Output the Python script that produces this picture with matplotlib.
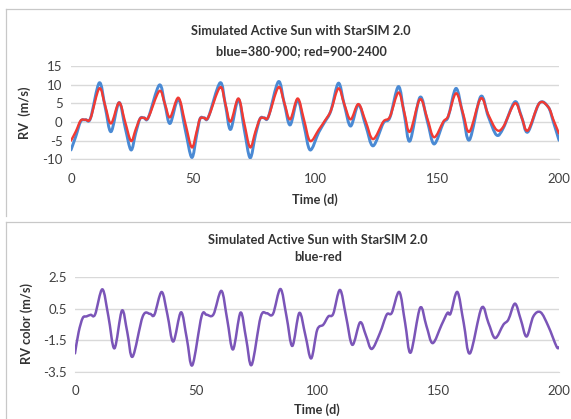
import numpy as np
import matplotlib
matplotlib.use("Agg")
import matplotlib.pyplot as plt
from matplotlib.path import Path
from matplotlib.patches import PathPatch
from matplotlib.lines import Line2D

plt.rcParams['font.family'] = ['Lato', 'DejaVu Sans']

# RV time series (days, m/s)
days_rv = [0, 2, 4, 6, 8, 11.6, 14, 16.4, 19.7, 22.2, 24.6, 26.5, 28.3, 30, 31.7,
           36.2, 38.5, 40.6, 44, 46.8, 49.5, 51.5, 52.9, 54.6, 56.3, 61.1, 63.3, 65.4,
           68.6, 71, 73.4, 75.6, 77.5, 79.2, 80.9, 85, 87.4, 89.8, 92.9, 95.5, 98,
           101.5, 104, 106.5, 109.6, 112, 114.6, 117.8, 120.8, 123.8, 128, 130.7,
           134.2, 136.6, 138.9, 143, 146, 148.8, 152.6, 154.6, 157.8, 160.6, 163.3,
           167.9, 171, 174.4, 177.2, 181.9, 184.6, 187.2, 191.9, 195.6, 197.7, 200]
rv_blue = [-7.5, -3.8, 0.2, 0.6, 1.0, 10.5, 4.0, -2.6, 5.2, -1.5, -7.5, -3.0, 0.9, 1.1, 1.2,
           9.9, 4.6, -0.4, 6.1, -2.0, -9.5, -3.5, 0.9, 1.1, 1.3, 10.5, 4.5, -2.0,
           6.1, -2.0, -9.6, -3.5, 0.9, 1.1, 1.4, 10.8, 5.0, -0.8, 5.9, -1.0, -7.5,
           -2.8, 0.0, 3.0, 10.4, 4.6, -1.1, 4.6, -1.0, -6.4, -0.3, 1.2,
           9.5, 2.0, -5.1, 6.6, 0.3, -5.9, -0.2, 1.4, 9.0, 2.0, -4.8,
           6.8, 1.5, -3.5, -1.6, 5.4, 1.5, -2.7, 5.0, 4.0, 0.0, -4.9]
rv_red = [-5.0, -2.5, 0.4, 0.6, 1.0, 9.0, 4.4, -0.4, 5.2, 0.0, -5.1, -2.0, 0.9, 1.1, 1.2,
          8.3, 4.8, 1.25, 6.5, -0.2, -6.8, -2.5, 0.9, 1.1, 1.3, 9.3, 4.8, 0.1,
          6.3, -0.3, -6.8, -2.5, 0.9, 1.1, 1.4, 9.3, 5.2, 0.7, 6.3, 0.6, -5.1,
          -2.1, 0.3, 3.0, 9.0, 4.8, 0.7, 4.8, 0.1, -4.6, 0.1, 1.4,
          7.9, 2.6, -2.6, 6.1, 1.0, -4.1, 0.1, 1.6, 7.7, 2.5, -2.6,
          6.3, 2.0, -2.1, -1.25, 5.0, 1.4, -2.3, 5.0, 4.0, 0.6, -3.1]

# colour signal blue-red (days, m/s)
days_col = [0, 1.5, 3.2, 4.8, 6.5, 8.3, 11.3, 13.8, 16.3, 19.4, 21.6, 23.8, 28, 31, 32.8,
            35.8, 38.2, 40.6, 43.8, 46.2, 48.5, 52.3, 54.4, 57.2, 60.5, 62.9, 65.3,
            68.4, 70.7, 73, 76.7, 79.2, 81.8, 84.9, 87.4, 89.8, 92.7, 95.2, 97.6,
            100.1, 102.6, 104.7, 106.7, 109.5, 112, 114.6, 117.8, 120.2, 122.6, 126,
            128.8, 130.9, 134, 136.4, 138.7, 142.6, 145.2, 147.8, 151.5, 153.9, 155.2,
            158, 160.6, 163.2, 168, 170.8, 173.6, 177, 179.1, 181.8, 184.2, 186.6,
            189.4, 192.4, 195.6, 199, 200]
rv_color = [-2.35, -1.0, -0.1, 0.0, 0.1, 0.12, 1.72, 0.0, -2.03, 0.37, -1.0, -2.56, 0.0, 0.16, 0.1,
            1.55, 0.1, -1.6, 0.26, -1.4, -3.1, 0.0, 0.1, 0.12, 1.62, -0.2, -2.1,
            0.24, -1.4, -3.08, -0.05, 0.2, 0.15, 1.74, 0.0, -1.88, 0.22, -1.2, -2.67,
            -0.85, -0.53, 0.0, 0.16, 1.68, 0.0, -1.81, -0.38, -1.2, -2.07, -1.06,
            0.11, 0.22, 1.55, -0.4, -2.3, 0.54, -0.6, -1.7, -0.53, 0.22, 0.18,
            1.55, -0.4, -2.35, 0.54, -0.4, -1.38, -0.53, -0.2, 0.81, -0.2, -1.28,
            0.0, 0.26, -0.63, -1.92, -1.96]

W, H = 571, 419
fig = plt.figure(figsize=(W / 100, H / 100), dpi=100)
TXT = '#333333'


def px_axes(left, right, top, bottom):
    return fig.add_axes([left / W, 1 - bottom / H, (right - left) / W, (bottom - top) / H])


def smooth_line(ax, x, y, color, lw):
    # Bezier-smoothed polyline like a spreadsheet "smoothed line"
    p = np.column_stack([x, y]).astype(float)
    n = len(p)
    verts = [p[0]]
    codes = [Path.MOVETO]
    for i in range(n - 1):
        p0 = p[i - 1] if i > 0 else p[i]
        p3 = p[i + 2] if i + 2 < n else p[i + 1]
        c1 = p[i] + (p[i + 1] - p0) / 6
        c2 = p[i + 1] - (p3 - p[i]) / 6
        verts += [c1, c2, p[i + 1]]
        codes += [Path.CURVE4] * 3
    patch = PathPatch(Path(verts, codes), facecolor='none', edgecolor=color,
                      lw=lw, capstyle='round', joinstyle='round', zorder=3)
    ax.add_patch(patch)


def style(ax, ylim, yticks, yfmt):
    ax.set_xlim(0, 200)
    ax.set_ylim(*ylim)
    ax.set_xticks([0, 50, 100, 150, 200])
    ax.set_yticks(yticks)
    ax.set_yticklabels([yfmt(v) for v in yticks])
    ax.grid(axis='y', color='#d9d9d9', lw=1)
    ax.set_axisbelow(True)
    for s in ['top', 'right', 'left']:
        ax.spines[s].set_visible(False)
    ax.spines['bottom'].set_color('#d9d9d9')
    ax.tick_params(length=0, labelsize=9.5, colors='#404040', pad=10)
    ax.tick_params(axis='y', pad=6)
    ax.set_facecolor('none')


# panel frames
for top, bot in [(9, 216), (222, 425)]:
    fig.add_artist(Line2D([5.5 / W, 5.5 / W], [1 - top / H, 1 - bot / H],
                          color='#c8c8c8', lw=0.9, transform=fig.transFigure))
    fig.add_artist(Line2D([5.5 / W, 1.0], [1 - top / H, 1 - top / H],
                          color='#c8c8c8', lw=0.9, transform=fig.transFigure))

# top panel
ax1 = px_axes(71, 559, 66, 159.3)
style(ax1, (-10, 15), [-10, -5, 0, 5, 10, 15], lambda v: f"{v:d}")
smooth_line(ax1, days_rv, rv_blue, '#4a8ad4', 2.1)
smooth_line(ax1, days_rv, rv_red, '#f23a32', 1.7)
fig.text(301 / W, 1 - 31 / H, "Simulated Active Sun with StarSIM 2.0", ha='center', va='center',
         fontsize=9.2, fontweight='bold', color=TXT)
fig.text(301 / W, 1 - 51 / H, "blue=380-900; red=900-2400", ha='center', va='center',
         fontsize=9.2, fontweight='bold', color=TXT)
fig.text(25 / W, 1 - 113 / H, "RV  (m/s)", rotation=90, ha='center', va='center',
         fontsize=9.2, fontweight='bold', color=TXT)
fig.text(315 / W, 1 - 200 / H, "Time (d)", ha='center', va='center',
         fontsize=9.2, fontweight='bold', color=TXT)

# bottom panel
ax2 = px_axes(75, 559, 277, 371.5)
style(ax2, (-3.5, 2.5), [-3.5, -1.5, 0.5, 2.5], lambda v: f"{v:.1f}")
smooth_line(ax2, days_col, rv_color, '#7b55b8', 1.8)
fig.text(318 / W, 1 - 240 / H, "Simulated Active Sun with StarSIM 2.0", ha='center', va='center',
         fontsize=9.2, fontweight='bold', color=TXT)
fig.text(318 / W, 1 - 257 / H, "blue-red", ha='center', va='center',
         fontsize=9.2, fontweight='bold', color=TXT)
fig.text(27 / W, 1 - 323 / H, "RV color (m/s)", rotation=90, ha='center', va='center',
         fontsize=9.2, fontweight='bold', color=TXT)
fig.text(317 / W, 1 - 410 / H, "Time (d)", ha='center', va='center',
         fontsize=9.2, fontweight='bold', color=TXT)

fig.savefig("out.png", dpi=100)
